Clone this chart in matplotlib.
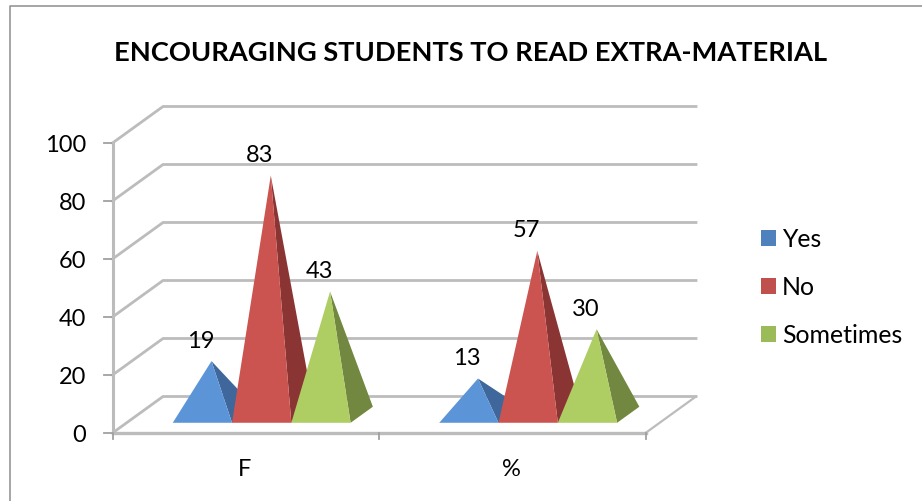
import matplotlib
matplotlib.use('Agg')
import matplotlib.pyplot as plt
from matplotlib.patches import Patch, Polygon

plt.rcParams['font.family'] = ['Lato', 'DejaVu Sans']

# Data for the chart
categories = ['F', '%']
series_names = ['Yes', 'No', 'Sometimes']
yes_values = [19, 13]
no_values = [83, 57]
sometimes_values = [43, 30]
y_ticks = [0, 20, 40, 60, 80, 100]

front_colors = ['#5b95d8', '#cc5450', '#aecd63']
side_colors = ['#3f679b', '#8a3533', '#72873f']
legend_colors = ['#4f81bd', '#c0504d', '#9bbb59']
grid_color = '#bcbcbc'

# Oblique projection: category position, value and depth (0 front, 1 back) to pixels
ORIGIN_X, ORIGIN_Y = 112.5, 433
CAT_WIDTH = 266.5
PX_PER_UNIT = 2.9
DEPTH_X, DEPTH_Y = 50.5, 36.5


def project(cat, value, depth=0.0):
    x = ORIGIN_X + cat * CAT_WIDTH + depth * DEPTH_X
    y = ORIGIN_Y - value * PX_PER_UNIT - depth * DEPTH_Y
    return x, y


fig = plt.figure(figsize=(9.22, 5.01), dpi=100)
ax = fig.add_axes([0, 0, 1, 1])
ax.set_xlim(0, 922)
ax.set_ylim(501, 0)
ax.axis('off')

# Outer chart frame, only the top and left edges show
ax.plot([9.5, 9.5, 922], [501, 5.8, 5.8], color='#969696', lw=1.2)

ax.text(471, 53, 'ENCOURAGING STUDENTS TO READ EXTRA-MATERIAL',
        ha='center', va='center', fontsize=19.6, fontweight='bold', color='black')

n_cats = len(categories)

# Walls and floor gridlines
for tick in y_ticks:
    pts = [project(0, tick), project(0, tick, 1), project(n_cats, tick, 1)]
    ax.plot(*zip(*pts), color=grid_color, lw=2.0, solid_joinstyle='miter', zorder=1)
    tx, ty = project(0, tick)
    ax.plot([tx - 9, tx], [ty, ty], color='#a0a0a0', lw=1.3, zorder=2)
    ax.text(tx - 26.5, ty + 2, str(tick), ha='right', va='center', fontsize=17, color='black')

# Axis lines and floor edges
ax.plot(*zip(project(0, 0), project(0, y_ticks[-1])), color=grid_color, lw=2.2, zorder=2)
ax.plot(*zip(project(0, 0), project(n_cats, 0)), color=grid_color, lw=2.4, zorder=2)
ax.plot(*zip(project(n_cats, 0), project(n_cats, 0, 1)), color=grid_color, lw=1.6, zorder=2)

for i in range(n_cats + 1):
    tx, ty = project(i, 0)
    ax.plot([tx, tx], [ty, ty + 6], color='#a0a0a0', lw=1.3, zorder=2)

for i, cat in enumerate(categories):
    tx, ty = project(i + 0.5, 0)
    ax.text(tx - 1, 469, cat, ha='center', va='center', fontsize=17, color='black')

# Pyramids, one per series inside each category
series_values = [yes_values, no_values, sometimes_values]
bar_width = 0.2225
left_gap = 0.173
depth_front, depth_back, depth_apex = 0.28, 0.72, 0.46

for i in range(n_cats):
    for s, values in enumerate(series_values):
        val = values[i]
        left = i + left_gap + s * bar_width
        right = left + bar_width
        mid = (left + right) / 2
        apex = project(mid, val, depth_apex)
        front_l = project(left, 0, depth_front)
        front_r = project(right, 0, depth_front)
        back_r = project(right, 0, depth_back)
        z = 3 + s
        ax.add_patch(Polygon([apex, front_r, back_r], closed=True, fc=side_colors[s], ec='none', zorder=z))
        ax.add_patch(Polygon([apex, front_l, front_r], closed=True, fc=front_colors[s], ec='none', zorder=z))
        ax.text(apex[0] - 11, apex[1] - 20, str(val), ha='center', va='center',
                fontsize=17, color='black', zorder=8)

handles = [Patch(fc=c, ec='none', label=n) for c, n in zip(legend_colors, series_names)]
leg = ax.legend(handles=handles, loc='center left', bbox_to_anchor=(761 / 922, 1 - 287.5 / 501),
                frameon=False, fontsize=17.9, handlelength=0.6, handleheight=0.6,
                handletextpad=0.24, labelspacing=1.0, borderpad=0, borderaxespad=0)

plt.savefig('out.png', dpi=100)
